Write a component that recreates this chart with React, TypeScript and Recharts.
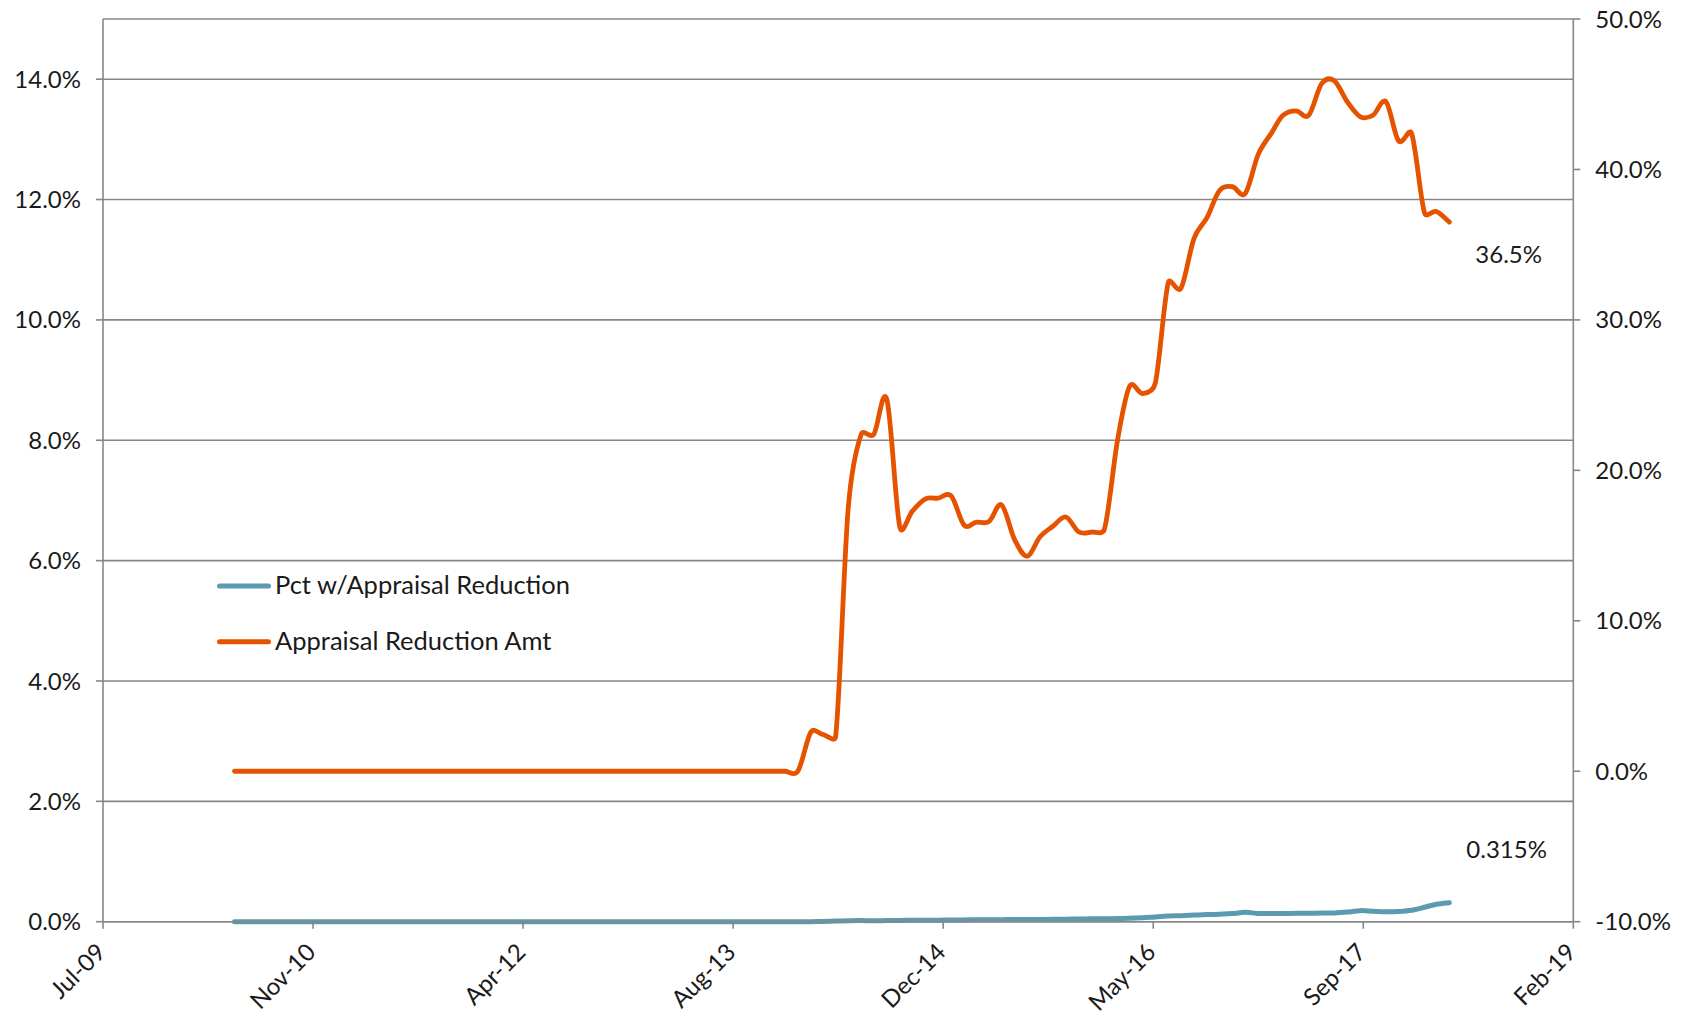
import React from 'react';
import { LineChart, Line, XAxis, YAxis, CartesianGrid, Legend } from 'recharts';

const FONT = 'Lato, "Open Sans", sans-serif';
const TEXT = '#1a1a1a';
const AXIS = '#878787';
const ORANGE = '#E55300';
const TEAL = '#5B9AAF';

// Monthly categories, May 2010 .. Apr 2018
const FIRST_YEAR = 2010;
const FIRST_MONTH = 5;
const MONTH_COUNT = 96;
const MONTHS: string[] = Array.from({ length: MONTH_COUNT }, (_, i) => {
  const t = FIRST_MONTH - 1 + i;
  return `${FIRST_YEAR + Math.floor(t / 12)}-${String((t % 12) + 1).padStart(2, '0')}`;
});

// Pct w/Appraisal Reduction (left axis, %)
const pctValues: number[] = [
  // 2010 May-Dec
  0, 0, 0, 0, 0, 0, 0, 0,
  // 2011
  0, 0, 0, 0, 0, 0, 0, 0, 0, 0, 0, 0,
  // 2012
  0, 0, 0, 0, 0, 0, 0, 0, 0, 0, 0, 0,
  // 2013
  0, 0, 0, 0, 0, 0, 0, 0, 0, 0, 0, 0,
  // 2014
  0, 0, 0.005, 0.01, 0.015, 0.018, 0.015, 0.02, 0.022, 0.024, 0.025, 0.026,
  // 2015
  0.028, 0.03, 0.031, 0.032, 0.034, 0.036, 0.037, 0.038, 0.04, 0.042, 0.044, 0.047,
  // 2016
  0.05, 0.053, 0.056, 0.066, 0.08, 0.093, 0.1, 0.11, 0.118, 0.125, 0.135, 0.157,
  // 2017
  0.137, 0.136, 0.137, 0.139, 0.141, 0.143, 0.146, 0.16, 0.184, 0.174, 0.164, 0.17,
  // 2018 Jan-Apr
  0.19, 0.24, 0.29, 0.315,
];

// Appraisal Reduction Amt (right axis, %)
const amtValues: number[] = [
  // 2010 May-Dec
  0, 0, 0, 0, 0, 0, 0, 0,
  // 2011
  0, 0, 0, 0, 0, 0, 0, 0, 0, 0, 0, 0,
  // 2012
  0, 0, 0, 0, 0, 0, 0, 0, 0, 0, 0, 0,
  // 2013
  0, 0, 0, 0, 0, 0, 0, 0, 0, 0, 0, 0,
  // 2014
  0, 2.6, 2.45, 2.3, 17.5, 22.4, 22.4, 24.7, 16.2, 17.3, 18.1, 18.15,
  // 2015
  18.3, 16.35, 16.55, 16.6, 17.7, 15.4, 14.3, 15.6, 16.3, 16.9, 15.9, 15.9,
  // 2016
  16.1, 22.0, 25.6, 25.1, 25.8, 32.5, 32.1, 35.4, 36.8, 38.6, 38.85, 38.4,
  // 2017
  41.0, 42.4, 43.6, 43.9, 43.6, 45.7, 45.9, 44.5, 43.5, 43.6, 44.5, 41.9,
  // 2018 Jan-Apr
  42.4, 37.1, 37.2, 36.5,
];

const X_TICKS = [40000, 40500, 41000, 41500, 42000, 42500, 43000, 43500];
const X_TICK_LABELS = ['Jul-09', 'Nov-10', 'Apr-12', 'Aug-13', 'Dec-14', 'May-16', 'Sep-17', 'Feb-19'];
const LEFT_TICKS = [0, 2, 4, 6, 8, 10, 12, 14];
const RIGHT_TICKS = [-10, 0, 10, 20, 30, 40, 50];
const SERIES_NAMES = ['Pct w/Appraisal Reduction', 'Appraisal Reduction Amt'];

const toSerial = (ym: string) => {
  const [y, m] = ym.split('-').map(Number);
  return Math.round((Date.UTC(y, m - 1, 15) - Date.UTC(1899, 11, 30)) / 86400000);
};

const rows = MONTHS.map((m, i) => ({ x: toSerial(m), pct: pctValues[i], amt: amtValues[i] }));

const dist = (a: number[], b: number[]) => Math.hypot(a[0] - b[0], a[1] - b[1]);

// Excel-like smoothed line: Bezier with tangent arms limited by adjacent segment lengths
function excelCurve(context: any) {
  let pts: number[][] = [];
  const arms = (p0: number[], p1: number[], p2: number[]) => {
    const d02 = dist(p0, p2);
    if (d02 === 0) return { fin: 0, fout: 0 };
    const fin = Math.min(1 / 6, (0.5 * dist(p0, p1)) / d02);
    const fout = Math.min(1 / 6, (0.5 * dist(p1, p2)) / d02);
    return { fin, fout };
  };
  return {
    areaStart() {},
    areaEnd() {},
    lineStart() {
      pts = [];
    },
    point(x: number, y: number) {
      pts.push([+x, +y]);
    },
    lineEnd() {
      const n = pts.length;
      if (!n) return;
      context.moveTo(pts[0][0], pts[0][1]);
      for (let i = 0; i < n - 1; i++) {
        const p0 = pts[Math.max(0, i - 1)];
        const p1 = pts[i];
        const p2 = pts[i + 1];
        const p3 = pts[Math.min(n - 1, i + 2)];
        const a1 = arms(p0, p1, p2);
        const a2 = arms(p1, p2, p3);
        context.bezierCurveTo(
          p1[0] + (p2[0] - p0[0]) * a1.fout,
          p1[1] + (p2[1] - p0[1]) * a1.fout,
          p2[0] - (p3[0] - p1[0]) * a2.fin,
          p2[1] - (p3[1] - p1[1]) * a2.fin,
          p2[0],
          p2[1]
        );
      }
    },
  };
}

const fmt1 = (v: number) => `${v.toFixed(1)}%`;

const XTick = (p: any) => {
  const idx = X_TICKS.indexOf(p.payload.value);
  const label = idx >= 0 ? X_TICK_LABELS[idx] : '';
  const tx = p.x + 4;
  const ty = p.y + 25;
  return (
    <text
      x={tx}
      y={ty}
      transform={`rotate(-45, ${tx}, ${ty})`}
      textAnchor="end"
      fontSize={24}
      fontFamily={FONT}
      fill={TEXT}
    >
      {label}
    </text>
  );
};

const makeEndDot = (key: 'pct' | 'amt', digits: number, dx: number, dy: number) => (p: any) => {
  if (p.index !== MONTH_COUNT - 1) return <g key={`d-${key}-${p.index}`} />;
  const v = Number(p.payload[key]);
  return (
    <text
      key={`d-${key}-${p.index}`}
      x={p.cx + dx}
      y={p.cy + dy}
      fontSize={24}
      fontFamily={FONT}
      fill={TEXT}
      textAnchor="start"
    >
      {`${v.toFixed(digits)}%`}
    </text>
  );
};

const LegendContent = () => (
  <svg width={420} height={110} style={{ display: 'block' }}>
    {SERIES_NAMES.map((name, i) => {
      const cy = i === 0 ? 26 : 81.7;
      return (
        <g key={name}>
          <line x1={5.5} x2={54.5} y1={cy} y2={cy} stroke={i === 0 ? TEAL : ORANGE} strokeWidth={5} strokeLinecap="round" />
          <text x={61} y={cy + 8} fontSize={25.5} fontFamily={FONT} fill={TEXT}>
            {name}
          </text>
        </g>
      );
    })}
  </svg>
);

export default function App() {
  return (
    <div style={{ position: 'absolute', left: 0, top: 0, width: 1686, height: 1011, background: '#fff' }}>
      <LineChart width={1686} height={1011} data={rows} margin={{ top: 19, right: 0, bottom: 0, left: 0 }}>
        <CartesianGrid yAxisId="left" vertical={false} stroke={AXIS} strokeWidth={1.6} />
        <XAxis
          dataKey="x"
          type="number"
          domain={[40000, 43500]}
          ticks={X_TICKS}
          interval={0}
          height={89.3}
          stroke={AXIS}
          strokeWidth={1.6}
          tickSize={7}
          tickMargin={0}
          tick={(p: any) => <XTick {...p} />}
        />
        <YAxis
          yAxisId="left"
          width={103}
          domain={[0, 15]}
          ticks={LEFT_TICKS}
          interval={0}
          tickFormatter={fmt1}
          stroke={AXIS}
          strokeWidth={1.6}
          tickSize={7}
          tickMargin={15}
          tick={{ fill: TEXT, fontSize: 24, fontFamily: FONT }}
        />
        <YAxis
          yAxisId="right"
          orientation="right"
          width={112.7}
          domain={[-10, 50]}
          ticks={RIGHT_TICKS}
          interval={0}
          tickFormatter={fmt1}
          stroke={AXIS}
          strokeWidth={1.6}
          tickSize={7}
          tickMargin={15}
          tick={{ fill: TEXT, fontSize: 24, fontFamily: FONT }}
        />
        <Legend
          content={LegendContent}
          layout="vertical"
          align="center"
          verticalAlign="middle"
          wrapperStyle={{ position: 'absolute', left: 214, top: 560, width: 420, height: 110 }}
        />
        <Line
          yAxisId="left"
          dataKey="pct"
          name={SERIES_NAMES[0]}
          type={excelCurve as any}
          stroke={TEAL}
          strokeWidth={5}
          strokeLinecap="round"
          dot={makeEndDot('pct', 3, 17, -45)}
          activeDot={false}
          isAnimationActive={false}
        />
        <Line
          yAxisId="right"
          dataKey="amt"
          name={SERIES_NAMES[1]}
          type={excelCurve as any}
          stroke={ORANGE}
          strokeWidth={4.8}
          strokeLinecap="round"
          dot={makeEndDot('amt', 1, 26, 41)}
          activeDot={false}
          isAnimationActive={false}
        />
      </LineChart>
    </div>
  );
}
